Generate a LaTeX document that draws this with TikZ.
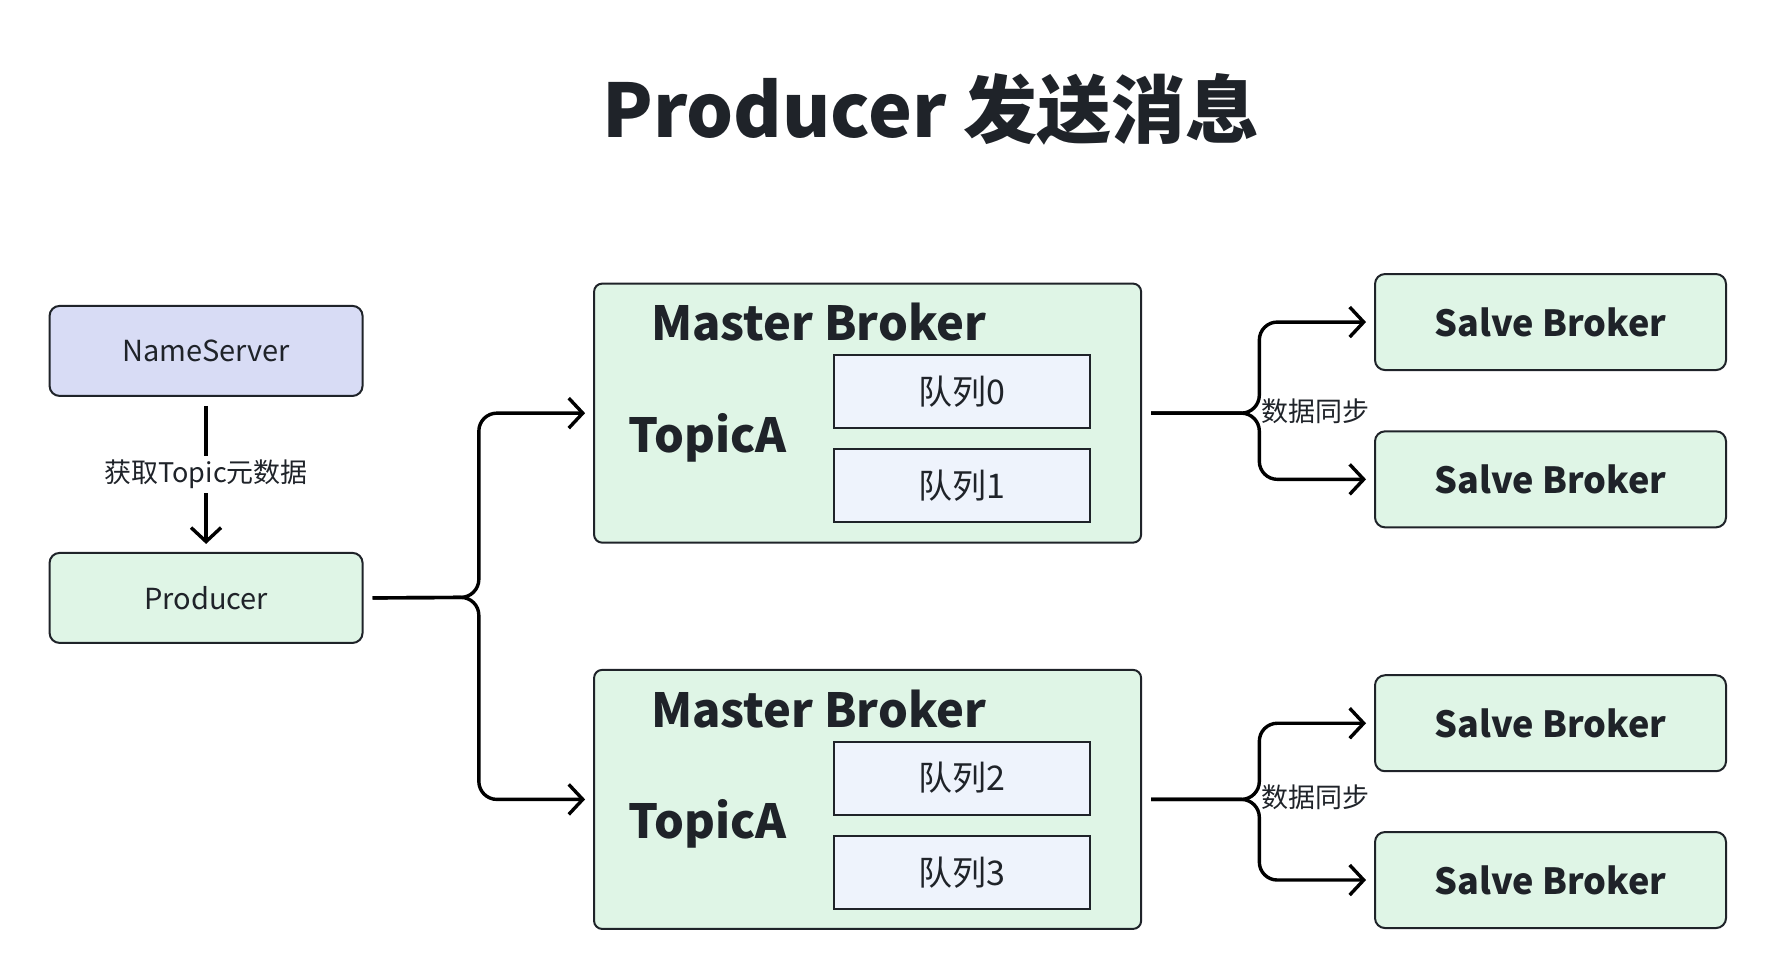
\documentclass[tikz,border=0pt]{standalone}
\usepackage{fontspec}
\setmainfont{Noto Sans CJK SC}
\definecolor{lavande}{HTML}{D8DCF5}
\definecolor{vertpale}{HTML}{DFF5E6}
\definecolor{bleupale}{HTML}{EEF3FC}
\definecolor{encre}{HTML}{1F2329}
\usetikzlibrary{arrows.meta}

\begin{document}
\begin{tikzpicture}[x=0.9955pt, y=-0.9955pt, node distance=247pt, text=encre] % px units
  \tikzstyle{box}=[draw=encre, line width=2pt, rounded corners=10pt, minimum width=313pt, minimum height=90pt, font=\fontsize{29}{34}\selectfont]
  \tikzstyle{master}=[draw=encre, line width=2pt, rounded corners=8pt, fill=vertpale, minimum width=547pt, minimum height=259pt]
  \tikzstyle{queue}=[draw=encre, line width=2pt, fill=bleupale, minimum width=256pt, minimum height=73pt, font=\fontsize{34}{40}\selectfont]
  \tikzstyle{slave}=[draw=encre, line width=2pt, rounded corners=10pt, fill=vertpale, minimum width=351pt, minimum height=96pt, font=\bfseries\fontsize{36}{42}\selectfont]
  \tikzstyle{big}=[font=\bfseries\fontsize{47}{55}\selectfont, inner sep=0pt, anchor=west]
  \tikzstyle{link}=[draw=black, line width=3.4pt, rounded corners=18pt, -{Straight Barb[length=14pt,width=30pt,line width=3.4pt]}, shorten <=9pt, shorten >=8pt]

  \useasboundingbox (0,0) rectangle (1782,980.4);

  \node[font=\bfseries\fontsize{74}{86}\selectfont] (title) at (935,110) {Producer 发送消息};

  \node[box, fill=lavande] (ns) at (207,352.5) {NameServer};
  \node[box, fill=vertpale] (prod) [below of=ns] {Producer};

  % master brokers
  \node[master] (mb1) at (871.5,415) {};
  \node[big] (mb1t) at (654,324) {Master Broker};
  \node[big] (mb1a) at (631,440) {TopicA};
  \node[queue] (q0) at (966.5,393) {队列0};
  \node[queue] (q1) at (966.5,488) {队列1};

  \node[master] (mb2) at (871.5,803) {};
  \node[big] (mb2t) at (654,712) {Master Broker};
  \node[big] (mb2a) at (631,828) {TopicA};
  \node[queue] (q2) at (966.5,781.5) {队列2};
  \node[queue] (q3) at (966.5,876.5) {队列3};

  % slave brokers
  \node[slave] (sb1) at (1557.5,323.5) {Salve Broker};
  \node[slave] (sb2) at (1557.5,481.5) {Salve Broker};
  \node[slave] (sb3) at (1557.5,726.5) {Salve Broker};
  \node[slave] (sb4) at (1557.5,884) {Salve Broker};

  \draw[link, rounded corners=0pt] (ns) -- node[fill=white, inner sep=4pt, font=\fontsize{27}{32}\selectfont] {获取Topic元数据} (prod);

  \draw[link] (prod.east) -- (481,600) |- (mb1.west);
  \draw[link] (prod.east) -- (481,600) |- (mb2.west);

  \draw[link] (mb1.east) -- (1265,415) |- (sb1.west);
  \draw[link] (mb1.east) -- (1265,415) |- (sb2.west);
  \draw[link] (mb2.east) -- (1265,803) |- (sb3.west);
  \draw[link] (mb2.east) -- (1265,803) |- (sb4.west);

  \node[anchor=west, inner sep=0pt, font=\fontsize{27}{32}\selectfont] (sync1) at (1267,413) {数据同步};
  \node[anchor=west, inner sep=0pt, font=\fontsize{27}{32}\selectfont] (sync2) at (1267,801) {数据同步};

\end{tikzpicture}
\end{document}
